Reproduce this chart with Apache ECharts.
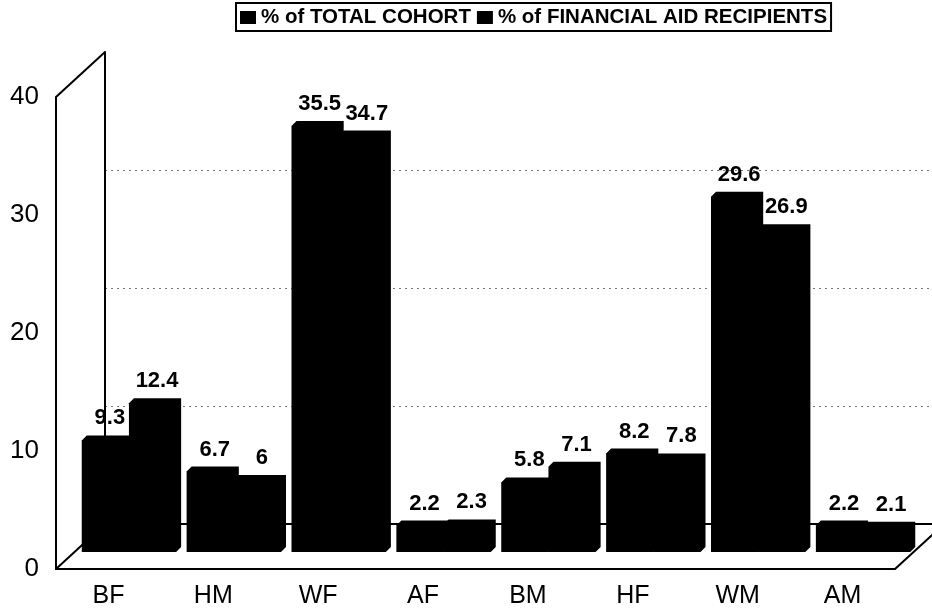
<!DOCTYPE html>
<html>
<head>
<meta charset="utf-8">
<script src="https://cdn.jsdelivr.net/npm/echarts@6/dist/echarts.min.js"></script>
<style>
  html, body { margin: 0; padding: 0; background: #fff; }
  #chart { width: 932px; height: 615px; }
</style>
</head>
<body>
<div id="chart"></div>
<script>
// data
const categories = ['BF', 'HM', 'WF', 'AF', 'BM', 'HF', 'WM', 'AM'];
const totalCohort = [9.3, 6.7, 35.5, 2.2, 5.8, 8.2, 29.6, 2.2];
const finAidRecipients = [12.4, 6, 34.7, 2.3, 7.1, 7.8, 26.9, 2.1];
const seriesNames = ['% of TOTAL COHORT', '% of FINANCIAL AID RECIPIENTS'];

const FONT = "'Liberation Sans', Arial, sans-serif";

// the fake 3d box: front plane, back wall, and the plane the bars stand in
const front = { left: 56, right: 37, top: 97, bottom: 46 };
const back = { left: 105, right: 0, top: 52, bottom: 91 };
const bars = { left: 79, right: 14, top: 72, bottom: 63 };
const DEPTH = 5; // chamfer of each bar

let myChart = echarts.init(document.getElementById('chart'));
const W = myChart.getWidth(), H = myChart.getHeight();

function renderBar(params, api) {
  const s = params.seriesIndex;
  const i = api.value(0), v = api.value(1);
  const basePt = api.coord([i, 0]);
  const topPt = api.coord([i, v]);
  const band = api.size([1, 0])[0];
  const w = band * 0.45;
  const x0 = basePt[0] - w - DEPTH / 2 + s * w;
  const x1 = x0 + w;
  const yb = basePt[1], yt = topPt[1];
  return {
    type: 'group',
    children: [
      {
        type: 'polygon',
        shape: {
          points: [[x0, yb], [x0, yt], [x0 + DEPTH, yt - DEPTH], [x1 + DEPTH, yt - DEPTH],
                   [x1 + DEPTH, yb - DEPTH], [x1, yb]]
        },
        style: { fill: '#000' }
      },
      {
        type: 'text',
        x: (x0 + x1 + DEPTH) / 2 + 2,
        y: yt - DEPTH - 6,
        style: {
          text: String(v),
          align: 'center',
          verticalAlign: 'bottom',
          fill: '#000',
          font: 'bold 22px ' + FONT
        }
      }
    ]
  };
}

function frameLine(x1, y1, x2, y2) {
  return { type: 'line', z: 0, shape: { x1, y1, x2, y2 }, style: { stroke: '#000', lineWidth: 2 } };
}

const fx0 = front.left, fx1 = W - front.right, fyTop = front.top, fyBot = H - front.bottom;
const bx0 = back.left, byTop = back.top, byBot = H - back.bottom;
const dx = bx0 - fx0, dy = fyBot - byBot;

let options = {
  animation: false,
  color: ['#000', '#000'],
  legend: {
    data: seriesNames,
    left: 236,
    top: 3,
    padding: [4, 4, 3, 4],
    borderColor: '#000',
    borderWidth: 2,
    itemGap: 6,
    itemWidth: 16,
    itemHeight: 13,
    icon: 'rect',
    textStyle: { color: '#000', fontSize: 20.5, fontWeight: 'bold', fontFamily: FONT }
  },
  grid: [
    Object.assign({}, back),
    Object.assign({}, front),
    Object.assign({}, bars)
  ],
  xAxis: [
    {
      gridIndex: 0, type: 'category', data: categories,
      axisLine: { show: true, lineStyle: { color: '#000', width: 2 } },
      axisTick: { show: false }, axisLabel: { show: false }
    },
    {
      gridIndex: 1, type: 'category', data: categories,
      axisLine: { show: true, lineStyle: { color: '#000', width: 2 } },
      axisTick: { show: false },
      axisLabel: { color: '#000', fontSize: 25, fontFamily: FONT, margin: 15 }
    },
    {
      gridIndex: 2, type: 'category', data: categories,
      axisLine: { show: false }, axisTick: { show: false }, axisLabel: { show: false }
    }
  ],
  yAxis: [
    {
      gridIndex: 0, type: 'value', min: 0, max: 40, interval: 10,
      axisLine: { show: true, lineStyle: { color: '#000', width: 2 } },
      axisTick: { show: false }, axisLabel: { show: false },
      splitLine: {
        show: true,
        lineStyle: { color: ['transparent', '#777', '#777', '#777', 'transparent'], type: [2, 4], width: 1 }
      }
    },
    {
      gridIndex: 1, type: 'value', min: 0, max: 40, interval: 10,
      axisLine: { show: true, lineStyle: { color: '#000', width: 2 } },
      axisTick: { show: false },
      splitLine: { show: false },
      axisLabel: { color: '#000', fontSize: 26, fontFamily: FONT, margin: 17 }
    },
    {
      gridIndex: 2, type: 'value', min: 0, max: 40, interval: 10, show: false,
      splitLine: { show: false }
    }
  ],
  graphic: [
    frameLine(fx0, fyTop, bx0, byTop),
    frameLine(fx0, fyBot, bx0, byBot),
    frameLine(fx1, fyBot, fx1 + dx, fyBot - dy)
  ],
  series: [
    {
      name: seriesNames[0], type: 'custom', xAxisIndex: 2, yAxisIndex: 2,
      itemStyle: { color: '#000' },
      renderItem: renderBar,
      encode: { x: 0, y: 1 },
      data: totalCohort.map((v, i) => [i, v])
    },
    {
      name: seriesNames[1], type: 'custom', xAxisIndex: 2, yAxisIndex: 2,
      itemStyle: { color: '#000' },
      renderItem: renderBar,
      encode: { x: 0, y: 1 },
      data: finAidRecipients.map((v, i) => [i, v])
    }
  ]
};

myChart.setOption(options);
</script>
</body>
</html>
